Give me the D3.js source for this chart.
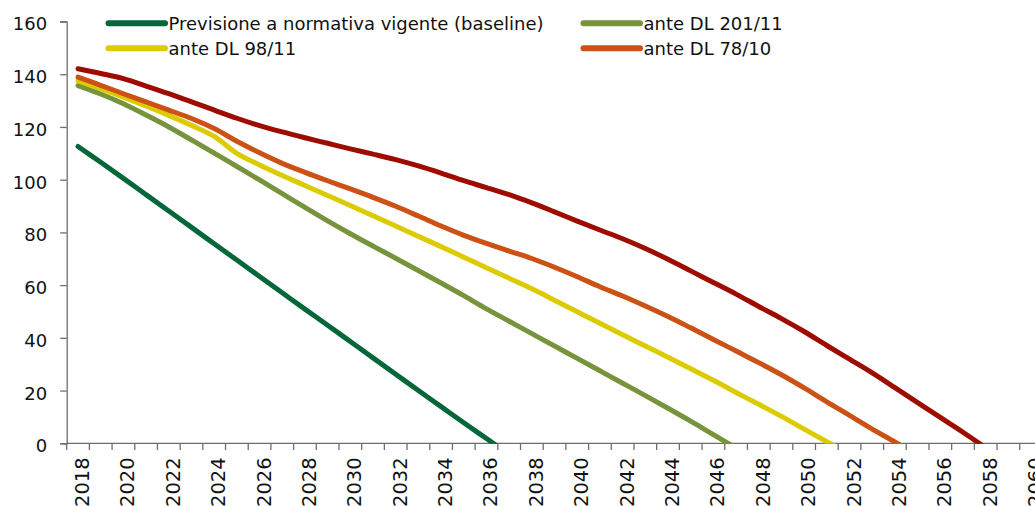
<!DOCTYPE html>
<html>
<head>
<meta charset="utf-8">
<script src="https://cdn.jsdelivr.net/npm/d3@7"></script>
<style>
  html, body { margin: 0; padding: 0; background: #ffffff; }
  svg { display: block; }
  text { font-family: "DejaVu Sans", sans-serif; fill: #111; }
</style>
</head>
<body>
<svg id="chart" width="1035" height="506"></svg>
<script>
// ---- DATA ----
const years = d3.range(2018, 2061);            // 2018 … 2060 (category axis)
const yTicks = [0, 20, 40, 60, 80, 100, 120, 140, 160];

// values from 2018 onward (one per year)
const baseline = [112.6, 106.6, 100.5, 94.3, 88.1, 81.9, 75.7, 69.5, 63.3, 57.1,
  50.9, 44.8, 38.6, 32.4, 26.2, 20.0, 13.9, 7.8, 1.8, -4.2];
const anteDL201 = [135.7, 132.5, 128.8, 124.5, 120.0, 115.1, 110.1, 105.0, 99.9, 94.7,
  89.5, 84.4, 79.5, 74.8, 70.2, 65.5, 60.8, 56.0, 51.0, 46.3,
  41.6, 36.9, 32.2, 27.5, 22.8, 18.1, 13.3, 8.4, 3.3, -1.8];
const anteDL98 = [137.5, 134.5, 131.3, 128.0, 124.4, 120.6, 116.4, 110.0, 105.6, 101.6,
  97.8, 94.0, 90.2, 86.3, 82.4, 78.5, 74.6, 70.6, 66.6, 62.6,
  58.6, 54.3, 49.9, 45.5, 41.2, 36.9, 32.6, 28.3, 23.9, 19.3,
  14.8, 10.2, 5.4, 0.6, -4.2];
const anteDL78 = [138.9, 135.8, 132.6, 129.5, 126.4, 123.2, 119.4, 114.6, 110.2, 106.2,
  102.8, 99.6, 96.5, 93.3, 89.9, 86.2, 82.4, 78.9, 75.8, 72.9,
  70.1, 66.8, 63.2, 59.4, 55.9, 52.1, 48.1, 43.8, 39.4, 35.0,
  30.6, 26.0, 21.0, 15.7, 10.6, 5.4, 0.5, -4.8];
const serie5 = [142.1, 140.3, 138.3, 135.5, 132.6, 129.5, 126.4, 123.3, 120.5, 118.1,
  115.9, 113.8, 111.7, 109.7, 107.6, 105.2, 102.5, 99.6, 97.0, 94.3,
  91.2, 87.8, 84.3, 80.9, 77.6, 73.9, 69.8, 65.4, 61.0, 56.6,
  51.9, 47.3, 42.4, 37.1, 31.9, 26.7, 21.1, 15.4, 9.8, 4.2, -1.7];

const seriesNames = ["Previsione a normativa vigente (baseline)", "ante DL 201/11", "ante DL 98/11", "ante DL 78/10", ""];
const seriesValues = [baseline, anteDL201, anteDL98, anteDL78, serie5];
const seriesColors = ["#04673a", "#77933c", "#dccb00", "#cc5114", "#9e0b00"];

// ---- LAYOUT ----
const svg = d3.select("#chart");
const x = d3.scaleBand().domain(years).range([66.7, 1042.4]).paddingInner(0).paddingOuter(0);
const y = d3.scaleLinear().domain([0, 160]).range([443.3, 21.5]);
const axisColor = "#6e6e6e";

svg.append("defs").append("clipPath").attr("id", "plotclip")
  .append("rect")
  .attr("x", x.range()[0]).attr("y", 0)
  .attr("width", x.range()[1] - x.range()[0])
  .attr("height", y(0) + 0.5);

// Y axis
const yAxis = d3.axisLeft(y).tickValues(yTicks).tickSize(6.5).tickPadding(13).tickFormat(d3.format("d"));
const gy = svg.append("g").attr("transform", `translate(${x.range()[0]},0)`).call(yAxis);
gy.select(".domain").attr("stroke", axisColor).attr("stroke-width", 1.3);
gy.selectAll(".tick line").attr("stroke", axisColor).attr("stroke-width", 1.3);
gy.selectAll(".tick text").attr("font-size", "18px").attr("fill", "#111")
  .attr("font-family", "DejaVu Sans, sans-serif").attr("dy", "0.47em");

// X axis (category axis with ticks between categories)
const gx = svg.append("g").attr("transform", `translate(0,${y(0)})`);
gx.append("line").attr("x1", x.range()[0]).attr("x2", x.range()[1])
  .attr("stroke", axisColor).attr("stroke-width", 1.3);
const tickPositions = years.map(d => x(d)).concat([x.range()[1]]);
gx.selectAll("line.tk").data(tickPositions).enter().append("line").attr("class", "tk")
  .attr("x1", d => d).attr("x2", d => d).attr("y1", 0).attr("y2", 6.7)
  .attr("stroke", axisColor).attr("stroke-width", 1.3);
gx.selectAll("text.xl").data(years.filter(d => (d - 2018) % 2 === 0)).enter().append("text")
  .attr("class", "xl")
  .attr("transform", d => `translate(${x(d) + x.bandwidth() / 2 + 11},${14}) rotate(-90)`)
  .attr("text-anchor", "end")
  .attr("font-size", "19.5px")
  .text(d => d);

// Lines
const line = d3.line()
  .x((d, i) => x(years[i]) + x.bandwidth() / 2)
  .y(d => y(d))
  .curve(d3.curveCatmullRom.alpha(0.5));

svg.append("g").attr("clip-path", "url(#plotclip)")
  .selectAll("path").data(seriesValues).enter().append("path")
  .attr("d", d => line(d))
  .attr("fill", "none")
  .attr("stroke", (d, i) => seriesColors[i])
  .attr("stroke-width", 5)
  .attr("stroke-linejoin", "round")
  .attr("stroke-linecap", "round");

// Legend (row-major, 2 columns)
const legendItems = seriesNames.map((n, i) => ({ name: n, color: seriesColors[i] })).filter(d => d.name !== "");
const legendCols = [108.5, 583.5];
const legendRows = [23.3, 48.3];
const lg = svg.append("g");
legendItems.forEach((it, i) => {
  const cx = legendCols[i % 2], cy = legendRows[Math.floor(i / 2)];
  lg.append("line").attr("x1", cx).attr("x2", cx + 56.5).attr("y1", cy).attr("y2", cy)
    .attr("stroke", it.color).attr("stroke-width", 6).attr("stroke-linecap", "round");
  lg.append("text").attr("x", cx + 60).attr("y", cy).attr("dy", "0.36em")
    .attr("font-size", "18px").text(it.name);
});
</script>
</body>
</html>
